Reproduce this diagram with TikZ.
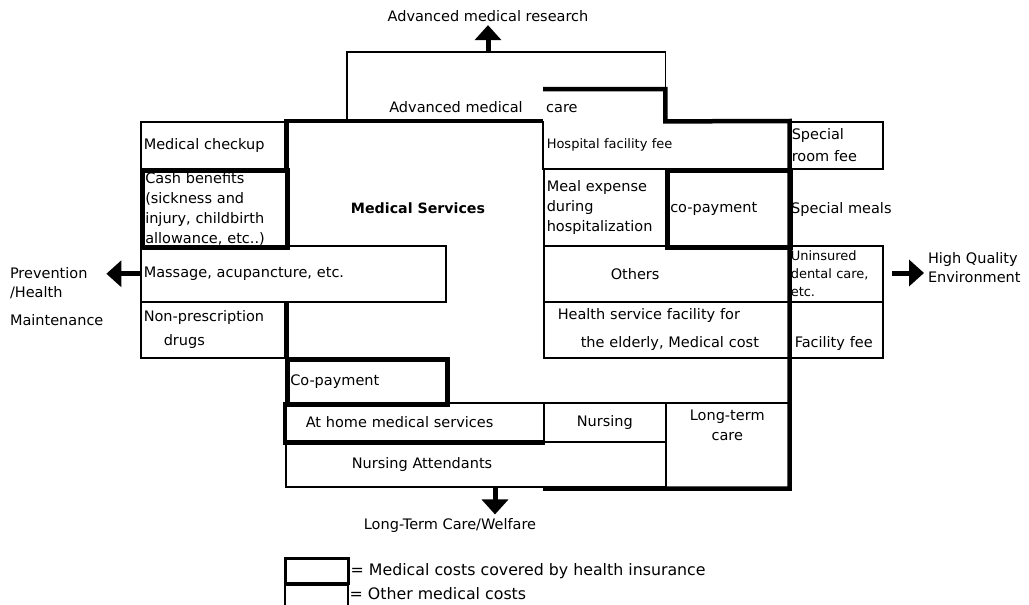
\documentclass[tikz,border=0pt]{standalone}
\usepackage{fontspec}
\setmainfont{DejaVu Sans}
\usetikzlibrary{arrows.meta}

\begin{document}
\begin{tikzpicture}[x=1pt, y=-1pt]
  \tikzset{
    cell/.style={
      draw, line width=1.5pt, anchor=north west, inner xsep=3pt, inner ysep=0pt,
      align=left, font=\fontsize{14.5}{20}\selectfont
    },
    smallcell/.style={
      cell, font=\fontsize{13}{18}\selectfont
    },
    covered/.style={
      line width=4.5pt
    },
    coveredcell/.style={
      cell, covered
    },
    sidetext/.style={
      align=left, font=\fontsize{14.5}{19}\selectfont
    },
    bigarrow/.style={
      line width=5pt, -{Triangle[width=26pt, length=15pt]}
    }
  }

  \useasboundingbox (0, 0) rectangle (1029, 605);

  % left column
  \node [cell, text width=139pt, minimum height=47pt] (checkup) at (140, 121) {Medical checkup};
  \node [coveredcell, text width=139pt, minimum height=77pt] (cash) at (140, 168) {Cash benefits\\(sickness and\\injury, childbirth\\allowance, etc..)};
  \node [cell, text width=299pt, minimum height=56pt] (massage) at (140, 245) {Massage, acupancture, etc.};
  \node [cell, text width=139pt, minimum height=56pt, font=\fontsize{14.5}{24}\selectfont] (nonpres) at (140, 301) {Non-prescription\\\hspace*{20pt}drugs};

  % middle
  \node [draw=none, anchor=north west, inner sep=0pt, minimum width=318pt, minimum height=69pt] (adv) at (347, 52) {};
  \node [sidetext, anchor=base] (advtext) at (456, 112) {Advanced medical};
  \node [sidetext, anchor=base west, inner sep=0pt] (advcare) at (546, 112) {care};
  \coordinate (caretop) at (543, 89);
  \node [font=\bfseries\fontsize{14.2}{17}\selectfont] (medserv) at (418, 208) {Medical Services};
  \node [coveredcell, text width=154pt, minimum height=45pt] (copay) at (285, 357) {Co-payment};
  \node [cell, text width=252pt, minimum height=39pt] (home) at (285, 402) {\hspace*{17pt}At home medical services};
  \node [cell, text width=374pt, minimum height=45pt] (attend) at (285, 441) {\hspace*{63pt}Nursing Attendants};
  \node [cell, text width=116pt, minimum height=39pt, align=center] (nursing) at (543, 402) {Nursing};
  \node [cell, text width=117pt, minimum height=85pt, align=center] (ltc) at (665, 402) {Long-term\\care\\\mbox{}\\\mbox{}};

  % right column
  \node [smallcell, draw=none, text width=239pt, minimum height=47pt] (hosp) at (543, 121) {Hospital facility fee};
  \node [cell, text width=116pt, minimum height=77pt] (meal) at (543, 168) {Meal expense\\during\\hospitalization};
  \node [coveredcell, text width=117pt, minimum height=77pt] (copay2) at (665, 168) {co-payment};
  \node [cell, text width=239pt, minimum height=56pt] (others) at (543, 245) {\hspace*{64pt}Others};
  \node [cell, text width=239pt, minimum height=56pt, font=\fontsize{14.5}{28}\selectfont] (health) at (543, 301) {\hspace*{11pt}Health service facility for\\\hspace*{34pt}the elderly, Medical cost};
  \node [cell, text width=88pt, minimum height=47pt, font=\fontsize{14.5}{22}\selectfont] (room) at (788, 121) {Special\\room fee};
  \node [anchor=base west, inner sep=0pt, font=\fontsize{14.5}{19}\selectfont] (meals) at (791, 213) {Special meals};
  \node [smallcell, inner xsep=2pt, text width=90pt, minimum height=56pt] (dental) at (788, 245) {Uninsured\\dental care,\\etc.};
  \node [cell, text width=88pt, minimum height=56pt, font=\fontsize{14.5}{28}\selectfont] (facility) at (788, 301) {\vphantom{H}\\\hspace*{3pt}Facility fee};

  % open sides
  \draw [line width=1.5pt] (adv.south west) |- (adv.north east) -- (adv.south east);
  \draw [line width=1.5pt] (hosp.north west) -- (hosp.south west);

  % health insurance border
  \draw [covered] (checkup.south east) -- (checkup.north east) -- (hosp.north west);
  \draw [covered] (caretop) -| (adv.south east) -- (hosp.north east) -- (ltc.south east) -- (ltc.south east -| nursing.south west);
  \draw [covered] (nonpres.north east) -- (nonpres.south east);
  \draw [covered] (home.north west) -- (home.south west) -- (home.south east);

  % outside arrows
  \node [sidetext] (research) at (488, 16) {Advanced medical research};
  \coordinate (advtop) at (488, 52);
  \draw [bigarrow] (advtop) -- (research);

  \node [sidetext, anchor=north west, inner sep=0pt, outer xsep=3pt] (prevent) at (7, 267) {Prevention\\/Health\\[9pt]Maintenance};
  \draw [bigarrow] (massage.west) -- (massage.west -| prevent.east);

  \node [sidetext, anchor=west, inner sep=0pt, outer xsep=4pt] (quality) at (924, 268) {High Quality\\Environment};
  \coordinate (qualitystart) at (892, 273);
  \draw [bigarrow] (qualitystart) -- (qualitystart -| quality.west);

  \node [sidetext] (welfare) at (450, 525) {Long-Term Care/Welfare};
  \coordinate (welfarestart) at (495, 487);
  \draw [bigarrow] (welfarestart) -- (welfarestart |- welfare.north);

  % legend
  \node [draw, line width=2.5pt, anchor=north west, inner sep=0pt, minimum width=63pt, minimum height=25pt] (keycovered) at (284, 557) {};
  \node [draw, line width=1.5pt, anchor=north west, inner sep=0pt, minimum width=63pt, minimum height=25pt] (keyother) at (keycovered.south west) {};
  \node [anchor=west, inner xsep=1pt, inner ysep=0pt, font=\fontsize{15.8}{18}\selectfont] (keycoveredtext) at (keycovered.east) {= Medical costs covered by health insurance};
  \node [anchor=west, inner xsep=1pt, inner ysep=0pt, yshift=4pt, font=\fontsize{15.8}{18}\selectfont] (keyothertext) at (keyother.east) {= Other medical costs};
\end{tikzpicture}
\end{document}
